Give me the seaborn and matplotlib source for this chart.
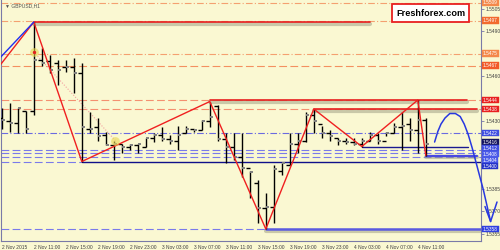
import numpy as np
import pandas as pd
import matplotlib
matplotlib.use("Agg")
import matplotlib.pyplot as plt
import matplotlib.patheffects as pe
import seaborn as sns

# ---------------- data ----------------
opens = [1.5432,1.5430,1.5429,1.5437,1.5437,1.5471,1.5470,1.5469,1.5466,1.5466,
         1.5462,1.5425,1.5426,1.5421,1.5414,1.5415,1.5413,1.5414,1.5413,1.5419,
         1.5421,1.5418,1.5417,1.5422,1.5425,1.5424,1.5430,1.5440,1.5418,1.5413,
         1.5406,1.5399,1.5389,1.5372,1.5373,1.5397,1.5401,1.5415,1.5417,1.5434,
         1.5428,1.5422,1.5419,1.5417,1.5416,1.5415,1.5417,1.5421,1.5417,1.5422,
         1.5426,1.5428,1.5424,1.5431]
highs = [1.5439,1.5442,1.5439,1.5437,1.5496,1.5479,1.5474,1.5471,1.5471,1.5472,
         1.5469,1.5436,1.5432,1.5423,1.5417,1.5415,1.5415,1.5415,1.5419,1.5422,
         1.5426,1.5421,1.5427,1.5427,1.5425,1.5431,1.5443,1.5441,1.5422,1.5422,
         1.5422,1.5397,1.5391,1.5382,1.5401,1.5402,1.5422,1.5422,1.5436,1.5438,
         1.5427,1.5424,1.5419,1.5419,1.5419,1.5419,1.5423,1.5422,1.5423,1.5429,
         1.5436,1.5432,1.5444,1.5432]
lows = [1.5425,1.5423,1.5422,1.5422,1.5434,1.5467,1.5462,1.5454,1.5463,1.5449,
        1.5403,1.5422,1.5417,1.5414,1.5404,1.5409,1.5411,1.5409,1.5413,1.5416,
        1.5417,1.5415,1.5411,1.5422,1.5423,1.5424,1.5426,1.5417,1.5402,1.5404,
        1.5393,1.5379,1.5362,1.5358,1.5362,1.5394,1.5401,1.5409,1.5416,1.5422,
        1.5419,1.5417,1.5414,1.5415,1.5414,1.5413,1.5417,1.5415,1.5420,1.5422,
        1.5411,1.5417,1.5409,1.5407]
closes = [1.5431,1.5429,1.5439,1.5425,1.5471,1.5469,1.5464,1.5464,1.5466,1.5462,
          1.5426,1.5425,1.5420,1.5414,1.5415,1.5413,1.5414,1.5415,1.5419,1.5421,
          1.5418,1.5417,1.5421,1.5425,1.5424,1.5430,1.5433,1.5418,1.5413,1.5406,
          1.5399,1.5396,1.5372,1.5373,1.5398,1.5402,1.5415,1.5417,1.5434,1.5430,
          1.5422,1.5420,1.5417,1.5416,1.5415,1.5417,1.5421,1.5417,1.5422,1.5426,
          1.5427,1.5424,1.5431,1.5415]

time_labels = ["2 Nov 2015", "2 Nov 11:00", "2 Nov 15:00", "2 Nov 19:00", "2 Nov 23:00",
               "3 Nov 03:00", "3 Nov 07:00", "3 Nov 11:00", "3 Nov 15:00", "3 Nov 19:00",
               "3 Nov 23:00", "4 Nov 03:00", "4 Nov 07:00", "4 Nov 11:00"]
time_label_bars = [0, 4, 8, 12, 16, 20, 24, 28, 32, 36, 40, 44, 48, 52]
price_ticks = [1.5355, 1.5370, 1.5385, 1.5400, 1.5415, 1.5430, 1.5445,
               1.5460, 1.5475, 1.5490, 1.5505]
hidden_ticks = [1.5400, 1.5415, 1.5445, 1.5475]   # covered by level boxes

# zigzag (bar index, price)
zz_bars = [-0.25, 4, 10, 26, 33, 39, 45, 52, 53]
zz_prices = [1.5467, 1.5496, 1.5403, 1.5443, 1.5358, 1.5438, 1.5413, 1.5444, 1.5407]
blue_start_bars = [-0.25, 4]
blue_start_prices = [1.5472, 1.5496]
dotted_bars = [4, 14.2]
dotted_prices = [1.5476, 1.5417]

# forecast curve
fc_bars = [54.1, 54.5, 54.9, 55.4, 56.0, 56.7, 57.3, 57.8, 58.3, 58.8, 59.4, 60.2, 61.1]
fc_prices = [1.5416, 1.5423, 1.5428, 1.5432, 1.5435, 1.5435, 1.5433, 1.5428, 1.5421,
             1.5412, 1.5400, 1.5384, 1.5363]
arrow_bars = [60.4, 61.1, 61.9]
arrow_prices = [1.5373, 1.5363, 1.5376]

# level labels (price, colour)
level_labels = [1.5509, 1.5497, 1.5475, 1.5467, 1.5444, 1.5438, 1.5422,
                1.5416, 1.5412, 1.5408, 1.5404, 1.5400, 1.5358]
level_colors = ["#F4884A", "#F26A2E", "#F4884A", "#F25A28", "#E82020", "#E82020",
                "#3F4FE0", "#14145E", "#3F4FE0", "#4A5AE8", "#4A5AE8", "#2534C8", "#3040E0"]

# ---------------- style ----------------
sns.set_style("white")
plt.rcParams['font.family'] = ['Liberation Sans', 'DejaVu Sans']
BG = "#FAF8D2"

fig = plt.figure(figsize=(5, 2.5), dpi=100, facecolor=BG)
ax = fig.add_axes([0.002, 0.036, 0.96, 0.964])
ax.set_facecolor(BG)
XMIN, XMAX = -0.1, 59.9
YMIN, YMAX = 1.5350, 1.55107
ax.set_xlim(XMIN, XMAX)
ax.set_ylim(YMIN, YMAX)

shadow = [pe.SimpleLineShadow(offset=(0, -1.2), shadow_color="#9a9a80", alpha=0.5, linewidth=3), pe.Normal()]

def hl(y, x0, x1, color, ls, lw, z=1, shade=False):
    ln, = ax.plot([x0, x1], [y, y], color=color, ls=ls, lw=lw, zorder=z)
    if shade:
        ln.set_path_effects(shadow)
    return ln

# reference lines
dashdot = (0, (6, 2, 1, 2))
hl(1.5509, XMIN, XMAX, "#F4A070", dashdot, 0.8)
hl(1.5497, XMIN, XMAX, "#F4A070", dashdot, 0.8)
hl(1.5475, XMIN, XMAX, "#F4A070", dashdot, 0.8)
hl(1.5467, XMIN, XMAX, "#F49060", (0, (7, 3)), 0.8)
hl(1.5444, XMIN, XMAX, "#F49070", (0, (7, 3)), 0.8)
hl(1.5438, XMIN, XMAX, "#F49070", (0, (7, 3)), 0.8)
hl(1.5422, XMIN, XMAX, "#6A6AE0", dashdot, 0.8)
hl(1.5411, XMIN, XMAX, "#7A7AEA", (0, (7, 3)), 0.8)
hl(1.5409, XMIN, XMAX, "#7A7AEA", (0, (7, 3)), 0.8)
hl(1.5406, XMIN, XMAX, "#7A7AEA", (0, (7, 3)), 0.8)
hl(1.5403, XMIN, 10, "#7A7AEA", (0, (7, 3)), 0.8)
hl(1.5358, XMIN, 33, "#7A7AEA", (0, (7, 3)), 0.8)

hl(1.5496, 4, 46, "#E82020", "-", 1.2, 3, True)
hl(1.5444, 26, 58.2, "#E82020", "-", 1.2, 3, True)
hl(1.5438, 39, 59.4, "#E82020", "-", 1.2, 3, True)
hl(1.5413, 45, 58.3, "#1A1A90", "-", 1.0, 3)
hl(1.5407, 53, 59.4, "#4A4AE0", "-", 1.6, 3, True)
hl(1.5403, 10, XMAX, "#10108A", "-", 1.0, 3)
hl(1.5358, 33, XMAX, "#5A5AE0", "-", 1.8, 3, True)

# OHLC bars
idx = np.arange(len(opens))
ax.vlines(idx, lows, highs, color="black", lw=1.0, zorder=5)
ax.hlines(opens, idx - 0.45, idx, color="black", lw=1.0, zorder=5)
ax.hlines(closes, idx, idx + 0.45, color="#808080", lw=1.4, zorder=5)

# zigzag and helper lines via seaborn
zz = pd.DataFrame({"bar": zz_bars, "price": zz_prices})
sns.lineplot(data=zz, x="bar", y="price", color="#F02020", lw=1.0, ax=ax, sort=False, zorder=6)
bs = pd.DataFrame({"bar": blue_start_bars, "price": blue_start_prices})
sns.lineplot(data=bs, x="bar", y="price", color="#2030F0", lw=1.0, ax=ax, sort=False, zorder=6)
dt = pd.DataFrame({"bar": dotted_bars, "price": dotted_prices})
sns.lineplot(data=dt, x="bar", y="price", color="#F4A0A0", lw=0.8, ls=(0, (1, 1.5)), ax=ax, sort=False, zorder=4)
ax.scatter(dotted_bars, dotted_prices, s=40, color="#E8D850", alpha=0.6, zorder=7, linewidths=0)
ax.scatter(dotted_bars[:1], dotted_prices[:1], s=2, color="#E02020", zorder=8)

fc = pd.DataFrame({"bar": fc_bars, "price": fc_prices})
sns.lineplot(data=fc, x="bar", y="price", color="#2838E0", lw=1.1, ax=ax, sort=False, zorder=9)
ar = pd.DataFrame({"bar": arrow_bars, "price": arrow_prices})
sns.lineplot(data=ar, x="bar", y="price", color="#2838E0", lw=1.1, ax=ax, sort=False, zorder=9)
for ln in ax.lines[-2:]:
    ln.set_clip_on(False)

# axes styling
ax.spines["top"].set_visible(False)
for s in ["left", "right", "bottom"]:
    ax.spines[s].set_color("#7A7AA8")
    ax.spines[s].set_linewidth(0.8)
ax.set_xlabel("")
ax.set_ylabel("")
ax.set_xticks(time_label_bars)
ax.set_xticklabels(time_labels, ha="left", fontsize=3.5, color="#404040")
ax.tick_params(axis="x", direction="out", length=2, width=0.6, color="#7A7AA8", pad=1)
ax.yaxis.tick_right()
ax.set_yticks(price_ticks)
ax.set_yticklabels(["" if v in hidden_ticks else f"{v:.4f}" for v in price_ticks],
                   fontsize=3.5, color="#404040")
ax.tick_params(axis="y", direction="out", length=2, width=0.6, color="#7A7AA8", pad=1.5)

# coloured level labels
for v, c in zip(level_labels, level_colors):
    ax.text(1.004, v, f"{v:.4f}", transform=ax.get_yaxis_transform(), fontsize=3.4,
            color="white", va="center", ha="left", zorder=20, clip_on=False,
            bbox=dict(boxstyle="square,pad=0.2", fc=c, ec=c, lw=0.3))

# title and watermark
fig.text(0.01, 0.978, "▼ GBPUSD,H1", fontsize=3.6, color="#505050", va="center", ha="left")
fig.text(0.861, 0.948, "Freshforex.com", fontsize=6.6, fontweight="bold",
         color="black", va="center", ha="center",
         bbox=dict(boxstyle="square,pad=0.45", fc="white", ec="#E82020", lw=1.3))

fig.savefig("out.png", dpi=100, facecolor=BG)
